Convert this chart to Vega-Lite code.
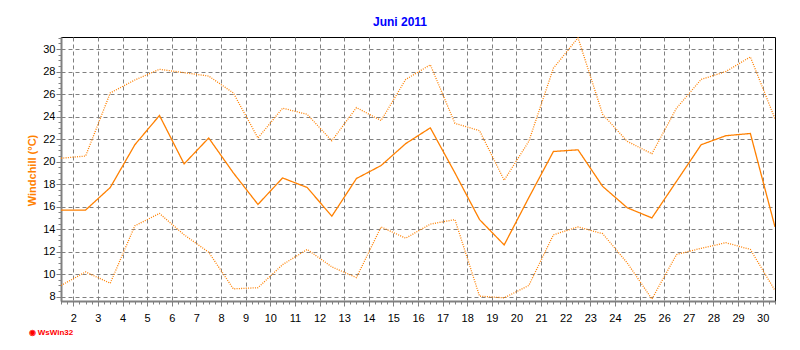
{
  "$schema": "https://vega.github.io/schema/vega-lite/v6.json",
  "width": 714,
  "height": 264,
  "autosize": "none",
  "padding": {"left": 61, "top": 37, "right": 25, "bottom": 49},
  "background": "white",
  "title": {"text": "Juni 2011", "color": "#0000FF", "font": "Liberation Sans", "fontSize": 12, "fontWeight": "bold", "offset": 3, "dx": -18, "anchor": "middle"},
  "config": {
    "view": {"stroke": "black", "strokeWidth": 1},
    "axis": {"domainColor": "#808080", "domainWidth": 2, "tickColor": "#808080", "tickWidth": 1, "gridColor": "#808080", "gridDash": [4, 3], "gridWidth": 1, "labelFont": "Liberation Sans", "labelFontSize": 11, "labelColor": "black"}
  },
  "data": {"values": [
    {"t": 1.5, "max": 20.3, "mittel": 15.7, "min": 9.0},
    {"t": 2.5, "max": 20.5, "mittel": 15.7, "min": 10.2},
    {"t": 3.5, "max": 26.1, "mittel": 17.7, "min": 9.2},
    {"t": 4.5, "max": 27.25, "mittel": 21.5, "min": 14.3},
    {"t": 5.5, "max": 28.2, "mittel": 24.1, "min": 15.4},
    {"t": 6.5, "max": 27.9, "mittel": 19.8, "min": 13.5},
    {"t": 7.5, "max": 27.6, "mittel": 22.1, "min": 11.95},
    {"t": 8.5, "max": 26.1, "mittel": 19.0, "min": 8.7},
    {"t": 9.5, "max": 22.1, "mittel": 16.2, "min": 8.8},
    {"t": 10.5, "max": 24.75, "mittel": 18.55, "min": 10.85},
    {"t": 11.5, "max": 24.2, "mittel": 17.7, "min": 12.2},
    {"t": 12.5, "max": 21.85, "mittel": 15.15, "min": 10.65},
    {"t": 13.5, "max": 24.8, "mittel": 18.5, "min": 9.7},
    {"t": 14.5, "max": 23.65, "mittel": 19.65, "min": 14.2},
    {"t": 15.5, "max": 27.3, "mittel": 21.6, "min": 13.2},
    {"t": 16.5, "max": 28.6, "mittel": 23.0, "min": 14.45},
    {"t": 17.5, "max": 23.4, "mittel": 19.0, "min": 14.85},
    {"t": 18.5, "max": 22.75, "mittel": 14.85, "min": 8.05},
    {"t": 19.5, "max": 18.35, "mittel": 12.6, "min": 7.9},
    {"t": 20.5, "max": 21.8, "mittel": 16.8, "min": 9.0},
    {"t": 21.5, "max": 28.3, "mittel": 20.9, "min": 13.5},
    {"t": 22.5, "max": 31.0, "mittel": 21.05, "min": 14.2},
    {"t": 23.5, "max": 24.2, "mittel": 17.8, "min": 13.6},
    {"t": 24.5, "max": 21.8, "mittel": 15.9, "min": 11.0},
    {"t": 25.5, "max": 20.7, "mittel": 15.0, "min": 7.8},
    {"t": 26.5, "max": 24.75, "mittel": 18.25, "min": 11.75},
    {"t": 27.5, "max": 27.3, "mittel": 21.5, "min": 12.3},
    {"t": 28.5, "max": 28.0, "mittel": 22.3, "min": 12.8},
    {"t": 29.5, "max": 29.3, "mittel": 22.5, "min": 12.2},
    {"t": 30.5, "max": 23.8, "mittel": 14.2, "min": 8.55}
  ]},
  "transform": [{"fold": ["max", "mittel", "min"], "as": ["reihe", "wert"]}],
  "mark": {"type": "line", "color": "#FF8000", "strokeWidth": 1.3, "clip": true},
  "encoding": {
    "x": {"field": "t", "type": "quantitative",
      "scale": {"domain": [1.5, 30.5], "nice": false, "zero": false},
      "axis": {
        "values": [1.5,1.75,2,2.25,2.5,2.75,3,3.25,3.5,3.75,4,4.25,4.5,4.75,5,5.25,5.5,5.75,6,6.25,6.5,6.75,7,7.25,7.5,7.75,8,8.25,8.5,8.75,9,9.25,9.5,9.75,10,10.25,10.5,10.75,11,11.25,11.5,11.75,12,12.25,12.5,12.75,13,13.25,13.5,13.75,14,14.25,14.5,14.75,15,15.25,15.5,15.75,16,16.25,16.5,16.75,17,17.25,17.5,17.75,18,18.25,18.5,18.75,19,19.25,19.5,19.75,20,20.25,20.5,20.75,21,21.25,21.5,21.75,22,22.25,22.5,22.75,23,23.25,23.5,23.75,24,24.25,24.5,24.75,25,25.25,25.5,25.75,26,26.25,26.5,26.75,27,27.25,27.5,27.75,28,28.25,28.5,28.75,29,29.25,29.5,29.75,30,30.25,30.5],
        "labelExpr": "datum.value % 1 == 0 ? format(datum.value, 'd') : ''",
        "gridOpacity": {"condition": {"test": "datum.value % 1 == 0", "value": 1}, "value": 0},
        "tickSize": {"condition": {"test": "datum.value % 1 == 0", "value": 5}, "value": 3},
        "labelPadding": 6,
        "labelFlush": false,
        "labelOverlap": false,
        "title": "◉ WsWin32",
        "titleColor": "#FF0000",
        "titleFont": "Liberation Sans",
        "titleFontSize": 8,
        "titleFontWeight": "bold",
        "titleAlign": "left",
        "titleBaseline": "middle",
        "titleX": -33,
        "titleY": 31
      }},
    "y": {"field": "wert", "type": "quantitative",
      "scale": {"domain": [7.62, 31.07], "nice": false, "zero": false},
      "axis": {
        "values": [8,8.5,9,9.5,10,10.5,11,11.5,12,12.5,13,13.5,14,14.5,15,15.5,16,16.5,17,17.5,18,18.5,19,19.5,20,20.5,21,21.5,22,22.5,23,23.5,24,24.5,25,25.5,26,26.5,27,27.5,28,28.5,29,29.5,30,30.5,31],
        "labelExpr": "datum.value % 2 == 0 ? format(datum.value, 'd') : ''",
        "gridOpacity": {"condition": {"test": "datum.value % 2 == 0", "value": 1}, "value": 0},
        "tickSize": {"condition": {"test": "datum.value % 2 == 0", "value": 5}, "value": 3},
        "labelPadding": 1,
        "labelOverlap": false,
        "labelFlush": false,
        "title": "Windchill  (°C)",
        "titleColor": "#FF8000",
        "titleFont": "Liberation Sans",
        "titleFontSize": 11,
        "titleFontWeight": "bold",
        "titleAngle": -90,
        "titleAlign": "center",
        "titleBaseline": "middle",
        "titleX": -29,
        "titleY": 133
      }},
    "detail": {"field": "reihe"},
    "strokeDash": {"field": "reihe", "type": "nominal",
      "scale": {"domain": ["max", "mittel", "min"], "range": [[1, 1.3], [1, 0], [1, 1.3]]},
      "legend": null}
  }
}
